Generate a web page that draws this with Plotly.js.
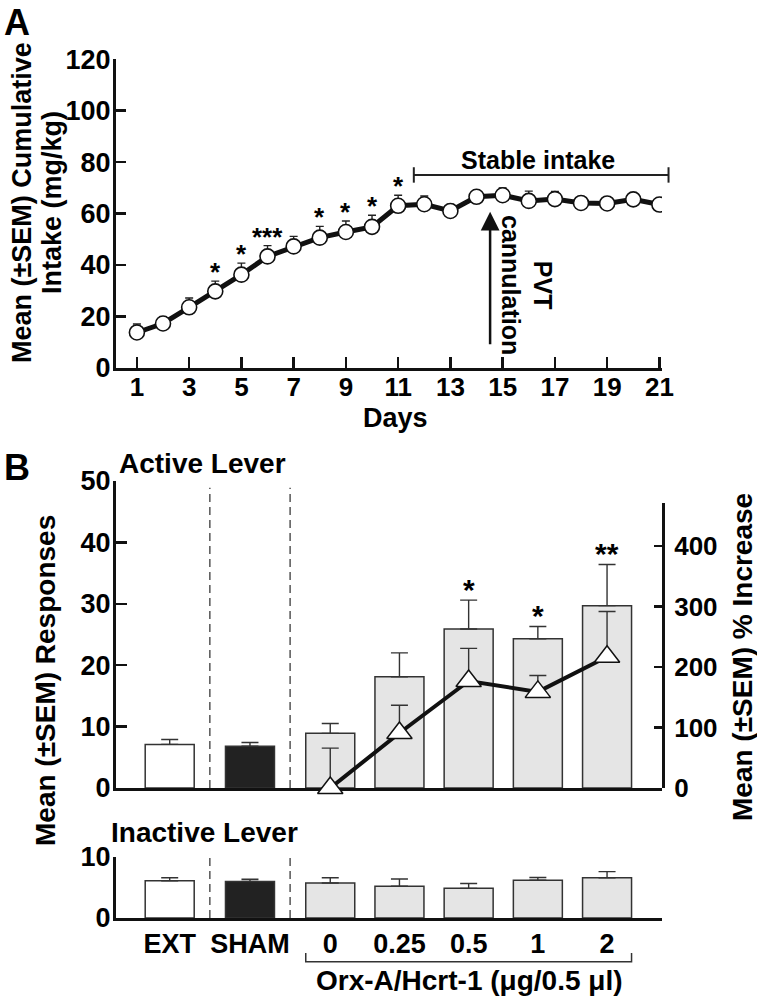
<!DOCTYPE html>
<html>
<head>
<meta charset="utf-8">
<script src="https://cdn.plot.ly/plotly-3.0.1.min.js"></script>
<style>html,body{margin:0;padding:0;background:#fff;} #chart{width:757px;height:999px;}</style>
</head>
<body>
<div id="chart"></div>
<script>
// ---------- Panel A data ----------
const days = [1,2,3,4,5,6,7,8,9,10,11,12,13,14,15,16,17,18,19,20,21];
const dayTicks = [1,3,5,7,9,11,13,15,17,19,21];
const intake = [13.7,17.2,23.5,29.7,36.2,43.3,47.2,50.6,52.8,54.8,63.0,63.6,61.0,66.5,67.1,64.9,65.6,64.1,63.9,65.5,63.5];
const intakeSem = [3.3,2.5,3.6,4.0,4.5,4.2,3.9,4.4,4.3,4.5,4.1,3.2,2.5,2.0,2.8,3.8,3.0,2.0,2.0,2.0,2.0];
const intakeSig = ['','','','*','*','***','','*','*','*','*','','','','','','','','','',''];
const stableFrom = 11.6, stableTo = 21.35, stableLevel = 75;
const cannulationDay = 14.52;

// ---------- Panel B data ----------
const groups = ['EXT','SHAM','0','0.25','0.5','1','2'];
const activeMean = [7.1,6.8,8.9,18.1,25.9,24.3,29.7];
const activeSem = [0.8,0.6,1.6,3.9,4.7,2.0,6.7];
const activeSig = ['','','','','*','*','**'];
const inactiveMean = [6.1,6.0,5.75,5.2,4.86,6.2,6.6];
const inactiveSem = [0.5,0.35,0.85,1.2,0.8,0.45,1.0];
const doseGroups = ['0','0.25','0.5','1','2'];
const pctIncrease = [0,91,177,159,217];
const pctSem = [66,46,54,27,75];

// ---------- layout helpers ----------
const W = 757, H = 999;
const px = v => v / W;
const py = v => 1 - v / H;
const slotOf = i => (i <= 2 ? i * 1.16 : 2.32 + (i - 2));
const slots = groups.map((g, i) => slotOf(i));
const doseSlots = doseGroups.map(d => slotOf(groups.indexOf(d)));
const barFill = groups.map(g => g === 'EXT' ? '#ffffff' : (g === 'SHAM' ? '#222222' : '#e5e5e5'));

const AX_DOM = [px(116), px(662)];
const A_XRANGE = [0.2, 21.1];
const A_YDOM = [py(367.7), py(59.3)];
const A_YRANGE = [0, 120];
// convert panel-A data coordinates to paper coordinates (for marks that extend past the axis)
const axToPaper = v => AX_DOM[0] + (v - A_XRANGE[0]) / (A_XRANGE[1] - A_XRANGE[0]) * (AX_DOM[1] - AX_DOM[0]);
const ayToPaper = v => A_YDOM[0] + (v - A_YRANGE[0]) / (A_YRANGE[1] - A_YRANGE[0]) * (A_YDOM[1] - A_YDOM[0]);

const FONT = 'Liberation Sans, Arial, Helvetica, sans-serif';
const bold = (size) => ({family: FONT, size: size, color: '#000', weight: 'bold'});

const zeros = n => new Array(n).fill(0);

const traces = [
  {
    type: 'scatter', mode: 'lines+markers', x: days, y: intake,
    xaxis: 'x', yaxis: 'y',
    line: {color: '#111', width: 5},
    marker: {symbol: 'circle', size: 15, color: '#fff', line: {color: '#111', width: 1.6}},
    error_y: {type: 'data', array: intakeSem, arrayminus: zeros(days.length), symmetric: false,
              color: '#222', thickness: 1.4, width: 4},
    showlegend: false
  },
  {
    type: 'bar', x: slots, y: activeMean, xaxis: 'x2', yaxis: 'y2', width: 0.708,
    marker: {color: barFill, line: {color: '#333', width: 1.5}},
    error_y: {type: 'data', array: activeSem, arrayminus: zeros(groups.length), symmetric: false,
              color: '#333', thickness: 1.4, width: 8.5},
    showlegend: false
  },
  {
    type: 'scatter', mode: 'lines+markers', x: doseSlots, y: pctIncrease, xaxis: 'x2', yaxis: 'y3',
    line: {color: '#111', width: 4},
    marker: {symbol: 'triangle-up', size: 22, color: '#fff', line: {color: '#111', width: 1.5}},
    error_y: {type: 'data', array: pctSem, arrayminus: zeros(doseGroups.length), symmetric: false,
              color: '#333', thickness: 1.4, width: 8.5},
    cliponaxis: false, showlegend: false
  },
  {
    type: 'bar', x: slots, y: inactiveMean, xaxis: 'x3', yaxis: 'y4', width: 0.708,
    marker: {color: barFill, line: {color: '#333', width: 1.5}},
    error_y: {type: 'data', array: inactiveSem, arrayminus: zeros(groups.length), symmetric: false,
              color: '#333', thickness: 1.4, width: 8.5},
    showlegend: false
  }
];

const axLine = {showline: true, linecolor: '#111', linewidth: 3, showgrid: false, zeroline: false, mirror: false};

const annotations = [];
const ann = (text, x, y, size, extra) => Object.assign({
  text: text, xref: 'paper', yref: 'paper', x: px(x), y: py(y), showarrow: false,
  font: bold(size), xanchor: 'center', yanchor: 'middle'
}, extra || {});

annotations.push(ann('A', 2, 0, 36, {xanchor: 'left', yanchor: 'top'}));
annotations.push(ann('B', 2, 445, 36, {xanchor: 'left', yanchor: 'top'}));
annotations.push(ann('Mean (±SEM) Cumulative', 22, 203, 27, {textangle: -90}));
annotations.push(ann('Intake (mg/kg)', 52, 203, 27, {textangle: -90}));
annotations.push(ann('Days', 395, 418, 27));
annotations.push(ann('Stable intake', 538, 160, 25));
annotations.push(ann('PVT<br>cannulation', 527, 285, 25, {textangle: 90}));
annotations.push(ann('Active Lever', 202, 463, 28));
annotations.push(ann('Inactive Lever', 205, 832, 28));
annotations.push(ann('Mean (±SEM) Responses', 45, 681, 28, {textangle: -90}));
annotations.push(ann('Mean (±SEM) % Increase', 742, 657, 28, {textangle: -90}));
annotations.push(ann('Orx-A/Hcrt-1 (μg/0.5 μl)', 470, 980, 28));

// cannulation arrow
annotations.push({
  xref: 'x', yref: 'y', axref: 'x', ayref: 'y',
  x: cannulationDay, y: 60.7, ax: cannulationDay, ay: 8.5,
  showarrow: true, arrowhead: 2, arrowsize: 1.5, arrowwidth: 2.5, arrowcolor: '#111', text: ''
});

// significance stars panel A
days.forEach((d, i) => {
  if (intakeSig[i]) annotations.push({
    xref: 'x', yref: 'y', x: d, y: intake[i] + intakeSem[i], text: intakeSig[i], showarrow: false,
    yanchor: 'middle', yshift: 9, font: bold(26)
  });
});
// significance stars panel B
groups.forEach((g, i) => {
  if (activeSig[i]) annotations.push({
    xref: 'x2', yref: 'y2', x: slots[i], y: activeMean[i] + activeSem[i], text: activeSig[i], showarrow: false,
    yanchor: 'middle', yshift: 11, font: bold(30)
  });
});

const bx0 = axToPaper(stableFrom), bx1 = axToPaper(stableTo);
const byc = ayToPaper(stableLevel), byl = ayToPaper(stableLevel - 3), byh = ayToPaper(stableLevel + 3);

const shapes = [
  // stable intake bracket
  {type: 'line', xref: 'paper', yref: 'paper', x0: bx0, x1: bx1, y0: byc, y1: byc, line: {color: '#222', width: 2}},
  {type: 'line', xref: 'paper', yref: 'paper', x0: bx0, x1: bx0, y0: byl, y1: byh, line: {color: '#222', width: 2}},
  {type: 'line', xref: 'paper', yref: 'paper', x0: bx1, x1: bx1, y0: byl, y1: byh, line: {color: '#222', width: 2}},
  // group separators (active)
  {type: 'line', xref: 'x2', yref: 'y2', x0: (slots[0] + slots[1]) / 2, x1: (slots[0] + slots[1]) / 2, y0: 0, y1: 48.9, line: {color: '#555', width: 1.5, dash: '8px,5px'}},
  {type: 'line', xref: 'x2', yref: 'y2', x0: (slots[1] + slots[2]) / 2, x1: (slots[1] + slots[2]) / 2, y0: 0, y1: 48.9, line: {color: '#555', width: 1.5, dash: '8px,5px'}},
  // group separators (inactive)
  {type: 'line', xref: 'x3', yref: 'y4', x0: (slots[0] + slots[1]) / 2, x1: (slots[0] + slots[1]) / 2, y0: 0, y1: 10, line: {color: '#555', width: 1.5, dash: '8px,5px'}},
  {type: 'line', xref: 'x3', yref: 'y4', x0: (slots[1] + slots[2]) / 2, x1: (slots[1] + slots[2]) / 2, y0: 0, y1: 10, line: {color: '#555', width: 1.5, dash: '8px,5px'}},
  // dose bracket
  {type: 'path', xref: 'x3', yref: 'paper',
   path: 'M ' + (doseSlots[0] - 0.354) + ',' + py(953) + ' L ' + (doseSlots[0] - 0.354) + ',' + py(961.7) +
         ' L ' + (doseSlots[doseSlots.length - 1] + 0.354) + ',' + py(961.7) + ' L ' + (doseSlots[doseSlots.length - 1] + 0.354) + ',' + py(953),
   line: {color: '#333', width: 1.5}}
];

const layout = {
  width: W, height: H,
  margin: {l: 0, r: 0, t: 0, b: 0},
  paper_bgcolor: '#fff', plot_bgcolor: 'rgba(0,0,0,0)',
  showlegend: false,
  bargap: 0,
  xaxis: Object.assign({}, axLine, {
    domain: AX_DOM, range: A_XRANGE, anchor: 'y',
    tickmode: 'array', tickvals: dayTicks, ticktext: dayTicks.map(String),
    ticks: 'inside', ticklen: 11, tickwidth: 2.5, tickcolor: '#111',
    tickfont: bold(26), ticklabelstandoff: -6
  }),
  yaxis: Object.assign({}, axLine, {
    domain: A_YDOM, range: A_YRANGE, anchor: 'x',
    tickmode: 'linear', tick0: 0, dtick: 20,
    ticks: 'inside', ticklen: 10, tickwidth: 2.5, tickcolor: '#111',
    tickfont: bold(27), ticklabelstandoff: -3
  }),
  xaxis2: Object.assign({}, axLine, {
    domain: AX_DOM, range: [-0.776, 7.114], anchor: 'y2',
    showticklabels: false, ticks: ''
  }),
  yaxis2: Object.assign({}, axLine, {
    domain: [py(788), py(481)], range: [0, 50], anchor: 'x2',
    tickmode: 'linear', tick0: 0, dtick: 10,
    ticks: 'inside', ticklen: 11, tickwidth: 2.5, tickcolor: '#111',
    tickfont: bold(27), ticklabelstandoff: -3
  }),
  yaxis3: Object.assign({}, axLine, {
    domain: [py(788), py(502.7)], range: [0, 472], anchor: 'x2', side: 'right',
    tickmode: 'array', tickvals: [0, 100, 200, 300, 400],
    ticks: 'inside', ticklen: 8, tickwidth: 2.5, tickcolor: '#111',
    tickfont: bold(26), ticklabelstandoff: 4
  }),
  xaxis3: Object.assign({}, axLine, {
    domain: AX_DOM, range: [-0.776, 7.114], anchor: 'y4',
    tickmode: 'array', tickvals: slots, ticktext: groups, ticks: '',
    tickfont: bold(27), ticklabelstandoff: 0
  }),
  yaxis4: Object.assign({}, axLine, {
    domain: [py(918), py(857)], range: [0, 10], anchor: 'x3',
    tickmode: 'array', tickvals: [0, 10],
    ticks: 'inside', ticklen: 10, tickwidth: 2.5, tickcolor: '#111',
    tickfont: bold(27), ticklabelstandoff: -3
  }),
  annotations: annotations,
  shapes: shapes
};

Plotly.newPlot('chart', traces, layout, {staticPlot: true, displayModeBar: false});
</script>
</body>
</html>
